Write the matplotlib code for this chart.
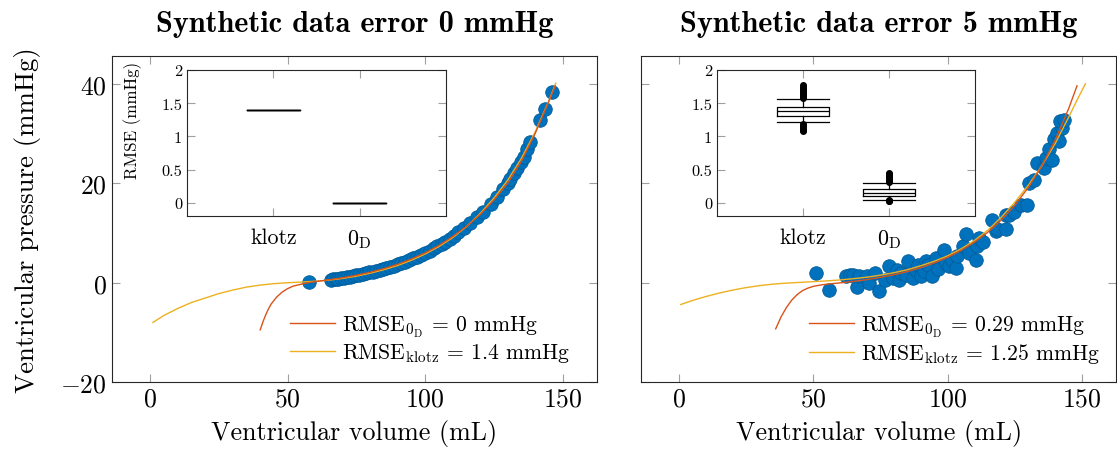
import matplotlib.pyplot as plt

plt.rcParams['font.family'] = 'cmr10'
plt.rcParams['mathtext.fontset'] = 'cm'
plt.rcParams['axes.formatter.use_mathtext'] = True
plt.rcParams['axes.unicode_minus'] = True

BLUE = '#0072BD'
RED = '#D95319'
YELLOW = '#EDB120'
TICK_GREY = '#a0a0a0'

# ---- panel 1: synthetic data error 0 mmHg ----
vol_err0 = [57.7, 65.6, 66.5, 67.4, 68.3, 69.5, 70.4, 71.6, 72.5, 73.7, 74.8, 76.0, 77.3,
            78.5, 79.6, 80.9, 82.1, 83.4, 84.7, 85.9, 87.2, 88.6, 90.0, 91.3, 92.7, 94.2,
            95.6, 97.1, 98.5, 100.0, 101.6, 103.1, 104.4, 106.0, 107.3, 108.9, 110.4, 112.1,
            114.0, 116.2, 118.9, 121.0, 124.0, 126.2, 128.3, 130.0, 131.0, 132.4, 133.5,
            134.7, 135.8, 137.1, 138.3, 141.9, 143.7, 146.2]
p_err0 = [0.06, 0.60, 0.67, 0.75, 0.82, 0.93, 1.01, 1.13, 1.22, 1.34, 1.46, 1.60, 1.75,
          1.90, 2.04, 2.22, 2.38, 2.58, 2.78, 2.97, 3.19, 3.44, 3.70, 3.95, 4.24, 4.56,
          4.88, 5.24, 5.59, 5.99, 6.44, 6.89, 7.29, 7.82, 8.27, 8.86, 9.44, 10.1,
          10.9, 11.9, 13.2, 14.2, 15.9, 17.2, 18.8, 20.0, 20.8, 22.0, 23.0,
          24.2, 25.3, 26.8, 28.2, 32.7, 35.0, 38.4]

fit0d_vol_err0 = [40, 41, 42, 43, 44, 46, 48, 50, 52, 55, 58, 62, 66, 70, 75, 80, 85, 90,
                  95, 100, 105, 110, 115, 120, 125, 130, 135, 140, 145, 147.3]
fit0d_p_err0 = [-9.5, -7.9, -6.5, -5.3, -4.3, -2.9, -1.9, -1.2, -0.7, -0.3, 0.05, 0.35,
                0.65, 0.98, 1.49, 2.09, 2.82, 3.69, 4.74, 5.99, 7.48, 9.27, 11.3, 13.7,
                16.6, 20.0, 24.4, 30.0, 36.5, 39.6]
klotz_vol_err0 = [1, 5, 10, 15, 20, 25, 30, 35, 40, 45, 50, 55, 60, 65, 70, 75, 80, 85, 90,
                  95, 100, 105, 110, 115, 120, 125, 130, 135, 140, 145, 147.5]
klotz_p_err0 = [-8.0, -6.6, -5.2, -4.0, -3.1, -2.2, -1.5, -0.9, -0.5, -0.2, -0.02, 0.12,
                0.28, 0.5, 0.85, 1.3, 1.9, 2.6, 3.45, 4.5, 5.75, 7.25, 9.05, 11.25, 13.9,
                17.0, 20.6, 25.0, 30.3, 36.6, 40.1]
rmse_0d_err0 = 0
rmse_klotz_err0 = 1.4

# ---- panel 2: synthetic data error 5 mmHg ----
vol_err5 = [51.1, 55.8, 62.2, 63.5, 64.8, 66.1, 67.0, 69.8, 70.8, 72.9, 74.6, 76.5, 78.3,
            79.5, 81.3, 82.0, 82.6, 84.5, 85.3, 86.9, 88.2, 88.8, 90.0, 91.2, 91.9, 92.5,
            94.3, 95.6, 96.5, 98.5, 99.5, 100.5, 101.7, 103.0, 103.6, 105.5, 106.7, 108.0,
            110.4, 111.0, 111.6, 113.0, 116.6, 117.8, 118.4, 121.5, 121.5, 122.8, 124.6,
            127.1, 129.6, 130.2, 132.0, 133.3, 135.8, 136.4, 137.7, 138.9, 139.5, 140.7,
            141.3, 142.5, 141.9, 143.2]
p_err5 = [1.9, -1.4, 1.4, 1.5, 1.6, -0.9, 1.3, 1.4, -0.1, 1.9, -1.7, 0.5, 3.3,
          1.0, 2.6, 0.6, 1.9, 1.6, 4.3, 0.9, 2.6, 3.6, 1.3, 2.3, 4.3, 3.6,
          1.4, 5.0, 2.8, 6.6, 4.0, 3.3, 4.6, 3.0, 5.3, 7.3, 9.7, 6.0,
          4.6, 7.3, 9.0, 8.2, 12.7, 10.3, 10.7, 10.7, 13.7, 13.7, 14.3,
          15.7, 15.7, 20.1, 20.7, 24.1, 23.1, 25.1, 26.8, 24.7, 28.8, 30.1,
          28.4, 31.1, 32.5, 32.8]

fit0d_vol_err5 = [36, 38, 40, 42, 44, 46, 48, 50, 53, 56, 60, 65, 70, 75, 80, 85, 90, 95,
                  100, 105, 110, 115, 120, 125, 130, 135, 140, 145, 148.1]
fit0d_p_err5 = [-9.3, -6.9, -5.0, -3.5, -2.4, -1.6, -1.1, -0.75, -0.45, -0.25, -0.05, 0.25,
                0.61, 1.06, 1.59, 2.24, 3.02, 3.96, 5.10, 6.49, 8.16, 10.18, 12.63, 15.58,
                19.16, 23.48, 28.70, 35.03, 39.6]
klotz_vol_err5 = [0.7, 5, 10, 15, 20, 25, 30, 35, 40, 45, 50, 55, 60, 65, 70, 75, 80, 85,
                  90, 95, 100, 105, 110, 115, 120, 125, 130, 135, 140, 145, 148, 151.2]
klotz_p_err5 = [-4.4, -3.6, -2.8, -2.1, -1.5, -1.0, -0.6, -0.3, -0.1, 0.05, 0.2, 0.35,
                0.55, 0.8, 1.1, 1.5, 2.0, 2.6, 3.4, 4.3, 5.4, 6.8, 8.5, 10.6, 13.2, 16.2,
                19.6, 23.5, 28.0, 33.3, 36.6, 40.0]
rmse_0d_err5 = 0.29
rmse_klotz_err5 = 1.25

# ---- inset boxplots: RMSE over repeated fits ----
box_labels = ['klotz', r'0$_\mathrm{D}$']
box_stats_err0 = [
    dict(med=1.40, q1=1.40, q3=1.40, whislo=1.40, whishi=1.40, fliers=[]),
    dict(med=0.0, q1=0.0, q3=0.0, whislo=0.0, whishi=0.0, fliers=[]),
]
box_stats_err5 = [
    dict(med=1.38, q1=1.30, q3=1.45, whislo=1.21, whishi=1.56,
         fliers=[1.58, 1.60, 1.62, 1.63, 1.65, 1.67, 1.69, 1.71, 1.73, 1.75, 1.77,
                 1.19, 1.17, 1.15, 1.13, 1.11, 1.09, 1.08]),
    dict(med=0.15, q1=0.095, q3=0.21, whislo=0.045, whishi=0.30,
         fliers=[0.31, 0.33, 0.35, 0.37, 0.39, 0.41, 0.43, 0.45, 0.04, 0.03, 0.02]),
]

x_ticks = [0, 50, 100, 150]
y_ticks = [-20, 0, 20, 40]
y_tick_labels = [r'$-20$', r'$0$', r'$20$', r'$40$']
inset_y_ticks = [0, 0.5, 1, 1.5, 2]
inset_y_labels = ['0', '0.5', '1', '1.5', '2']


def style_axes(ax):
    ax.tick_params(direction='in', top=True, right=True, color=TICK_GREY,
                   length=6, width=0.8)
    for s in ax.spines.values():
        s.set_color('#262626')
        s.set_linewidth(0.8)


def draw_panel(ax, vol, p, v0d, p0d, vk, pk, r0d, rk, title, show_ylabel, leg_x):
    ax.scatter(vol, p, s=95, color=BLUE, edgecolors='#005c99', linewidths=0.6, zorder=2)
    ax.plot(vk, pk, color=YELLOW, lw=1.0, zorder=3,
            label=r'RMSE$_{\mathrm{klotz}}$ = ' + f'{rk:g} mmHg')
    ax.plot(v0d, p0d, color=RED, lw=1.0, zorder=4,
            label=r'RMSE$_{0_\mathrm{D}}$ = ' + f'{r0d:g} mmHg')
    ax.set_xlim(-14, 162.6)
    ax.set_ylim(-20, 45.6)
    ax.set_xticks(x_ticks)
    ax.set_xticklabels([f'${t}$' for t in x_ticks], fontsize=18.5)
    ax.set_yticks(y_ticks)
    if show_ylabel:
        ax.set_yticklabels(y_tick_labels, fontsize=18.5)
        ax.set_ylabel('Ventricular pressure (mmHg)', fontsize=19.3, labelpad=14)
    else:
        ax.set_yticklabels([])
    ax.set_xlabel('Ventricular volume (mL)', fontsize=18.7, labelpad=6)
    ax.set_title(title, fontsize=21.8, fontfamily='cmb10', pad=18)
    style_axes(ax)
    h, l = ax.get_legend_handles_labels()
    ax.legend(h[::-1], l[::-1], loc='upper left', bbox_to_anchor=(leg_x, 0.21),
              frameon=False, fontsize=15.6, handlelength=2.1, handletextpad=0.3,
              borderpad=0, borderaxespad=0, labelspacing=0.12)


def draw_inset(ax, stats, show_ylabel):
    ax.bxp(stats, positions=[1, 2], widths=0.61, capwidths=0.61, showfliers=True,
           boxprops=dict(color='black', lw=0.9),
           medianprops=dict(color='black', lw=0.9),
           whiskerprops=dict(color='black', lw=0.9),
           capprops=dict(color='black', lw=0.9),
           flierprops=dict(marker='o', markerfacecolor='black', markeredgecolor='black',
                           markersize=4))
    ax.set_xlim(0, 3)
    ax.set_ylim(-0.2, 2.0)
    ax.set_xticks([1, 2])
    ax.set_xticklabels(box_labels, fontsize=15.8)
    ax.set_yticks(inset_y_ticks)
    ax.set_yticklabels(inset_y_labels, fontsize=11.8)
    if show_ylabel:
        ax.set_ylabel('RMSE (mmHg)', fontsize=12.2)
        ax.yaxis.set_label_coords(-0.175, 0.66)
    style_axes(ax)
    ax.tick_params(axis='x', pad=8)


fig = plt.figure(figsize=(11.17, 4.56), dpi=100)
ax1 = fig.add_axes([0.1000, 0.160, 0.4347, 0.715])
ax2 = fig.add_axes([0.5741, 0.160, 0.4250, 0.715])

draw_panel(ax1, vol_err0, p_err0, fit0d_vol_err0, fit0d_p_err0, klotz_vol_err0,
           klotz_p_err0, rmse_0d_err0, rmse_klotz_err0,
           'Synthetic data error 0 mmHg', True, 0.367)
draw_panel(ax2, vol_err5, p_err5, fit0d_vol_err5, fit0d_p_err5, klotz_vol_err5,
           klotz_p_err5, rmse_0d_err5, rmse_klotz_err5,
           'Synthetic data error 5 mmHg', False, 0.353)

in1 = fig.add_axes([0.1674, 0.5241, 0.2319, 0.3202])
in2 = fig.add_axes([0.6419, 0.5241, 0.2310, 0.3202])
draw_inset(in1, box_stats_err0, True)
draw_inset(in2, box_stats_err5, False)

fig.savefig('out.png', dpi=100)
